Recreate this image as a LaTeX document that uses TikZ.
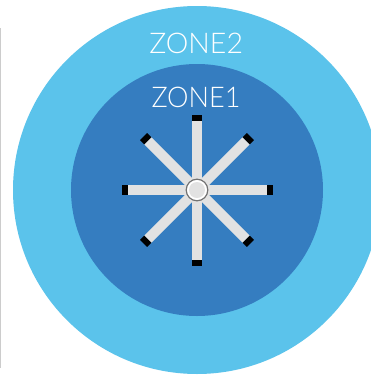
\documentclass[tikz,border=0pt]{standalone}
\usepackage{fontspec}
\setmainfont{Lato}[UprightFont=* Light]
\definecolor{zoneA}{HTML}{357DC0}
\definecolor{zoneB}{HTML}{5BC3EB}
\definecolor{spokegrey}{HTML}{E2E2E2}
\tikzset{
  zonelabel/.style={text=white,font=\fontsize{28.5}{32}\selectfont,inner sep=0pt,anchor=center},
  spoke/.style={fill=spokegrey,draw=none},
  spokecap/.style={fill=black,draw=none}
}
\begin{document}
\begin{tikzpicture}[x=1pt,y=-1pt]
\useasboundingbox (0,0) rectangle (371,376);
\clip (0,0) rectangle (371,376);
\fill[white] (0,0) rectangle (371,376);
\fill[black!20] (0,28) rectangle (1,368);
\fill[zoneB] (197,190) circle[radius=184];
\fill[zoneA] (197,190) circle[radius=126];
\node[zonelabel] (zone2) at (196.2,43) {ZONE2};
\node[zonelabel,xscale=0.95] (zone1) at (196,97.3) {ZONE1};
\foreach \a in {0,90,180,270,45,135,225,315}{
  \begin{scope}[shift={(197,190)},rotate=\a]
    \fill[spoke] (0,-5) rectangle (69.5,5);
    \fill[spokecap] (69.5,-5) rectangle (75.5,5);
  \end{scope}
}
\fill[white,draw=black!55,line width=1.2pt] (197,190) circle[radius=10.8];
\fill[spokegrey] (197,190) circle[radius=8];
\end{tikzpicture}
\end{document}
